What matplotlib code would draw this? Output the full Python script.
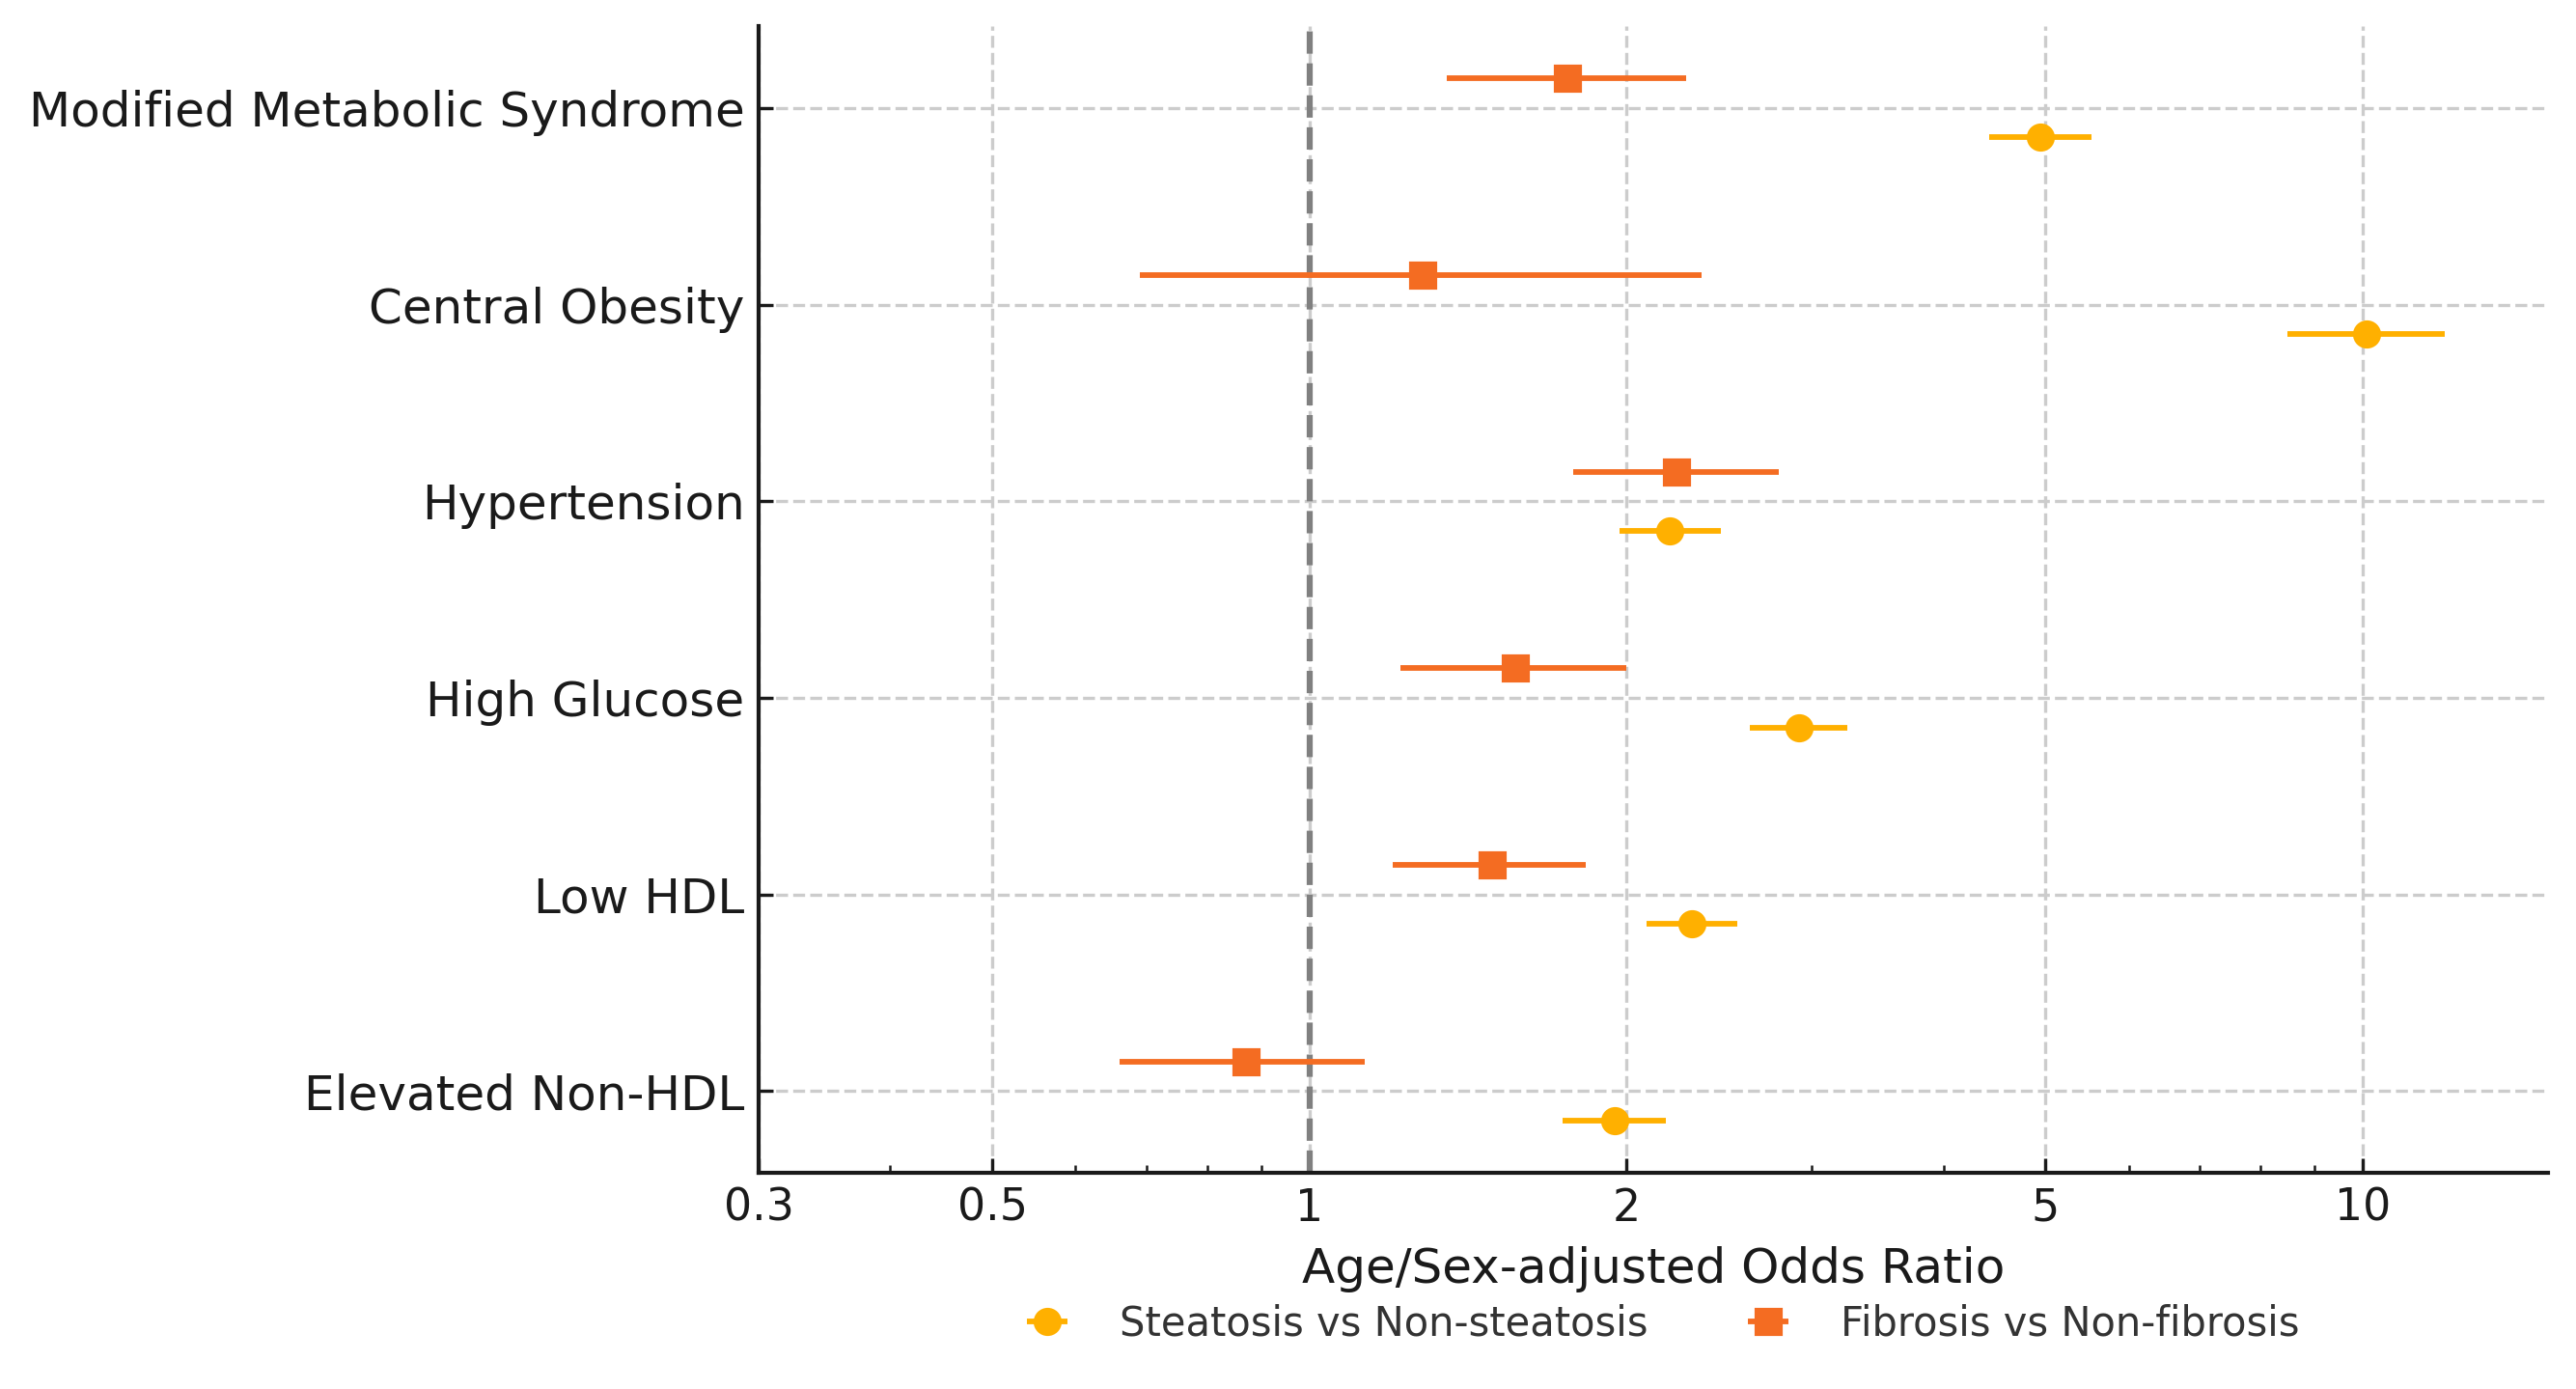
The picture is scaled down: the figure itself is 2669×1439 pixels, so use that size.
import numpy as np
import matplotlib
matplotlib.use("Agg")
import matplotlib.pyplot as plt
from matplotlib.ticker import FixedLocator, LogLocator, NullFormatter

##############################
# data
categories = ["Modified Metabolic Syndrome", "Central Obesity", "Hypertension",
              "High Glucose", "Low HDL", "Elevated Non-HDL"]

steat_or = [4.94, 10.1, 2.20, 2.92, 2.31, 1.95]
steat_lo = [4.42, 8.48, 1.97, 2.62, 2.09, 1.74]
steat_hi = [5.53, 11.98, 2.46, 3.24, 2.55, 2.18]

fib_or = [1.76, 1.28, 2.23, 1.57, 1.49, 0.87]
fib_lo = [1.35, 0.69, 1.78, 1.22, 1.20, 0.66]
fib_hi = [2.28, 2.36, 2.79, 2.00, 1.83, 1.13]

xticks = [0.3, 0.5, 1, 2, 5, 10]
xticklabels = ["0.3", "0.5", "1", "2", "5", "10"]

c_steat = "#FFB000"
c_fib = "#F46C22"
##############################
y = np.arange(len(categories))
off = 0.15

steat_or = np.array(steat_or)
fib_or = np.array(fib_or)
steat_err = [steat_or - np.array(steat_lo), np.array(steat_hi) - steat_or]
fib_err = [fib_or - np.array(fib_lo), np.array(fib_hi) - fib_or]

fig = plt.figure(figsize=(2669/300, 1439/300), dpi=300)
ax = fig.add_axes([0.2945, 0.1557, 0.6946, 0.8253])

ax.errorbar(steat_or, y + off, xerr=steat_err, fmt="o", color=c_steat,
            ms=6, elinewidth=1.4, capsize=0, label="Steatosis vs Non-steatosis")
ax.errorbar(fib_or, y - off, xerr=fib_err, fmt="s", color=c_fib,
            ms=6, elinewidth=1.4, capsize=0, label="Fibrosis vs Non-fibrosis")

ax.axvline(1, color="#808080", ls="--", lw=1.5, zorder=1)

ax.set_xscale("log")
ax.set_xlim(0.3, 15)
ax.xaxis.set_major_locator(FixedLocator(xticks))
ax.set_xticklabels(xticklabels)
ax.xaxis.set_minor_locator(LogLocator(base=10, subs=np.arange(2, 10)))
ax.xaxis.set_minor_formatter(NullFormatter())

ax.set_yticks(y)
ax.set_yticklabels(categories, fontsize=12, color="#1a1a1a")
ax.invert_yaxis()

ax.tick_params(axis="x", which="major", labelsize=11, labelcolor="#1a1a1a")
ax.tick_params(which="both", direction="in", color="#1a1a1a")

ax.grid(True, which="major", ls="--", color="#cccccc", lw=0.8)
ax.set_axisbelow(True)

for s in ["top", "right"]:
    ax.spines[s].set_visible(False)
for s in ["left", "bottom"]:
    ax.spines[s].set_linewidth(1.0)
    ax.spines[s].set_color("#1a1a1a")

ax.set_xlabel("Age/Sex-adjusted Odds Ratio", fontsize=12, color="#1a1a1a")

leg = ax.legend(loc="center", bbox_to_anchor=(0.5, -0.132), ncol=2,
                frameon=False, fontsize=10)
for t in leg.get_texts():
    t.set_color("#333333")

fig.savefig("out.png", dpi=300)
